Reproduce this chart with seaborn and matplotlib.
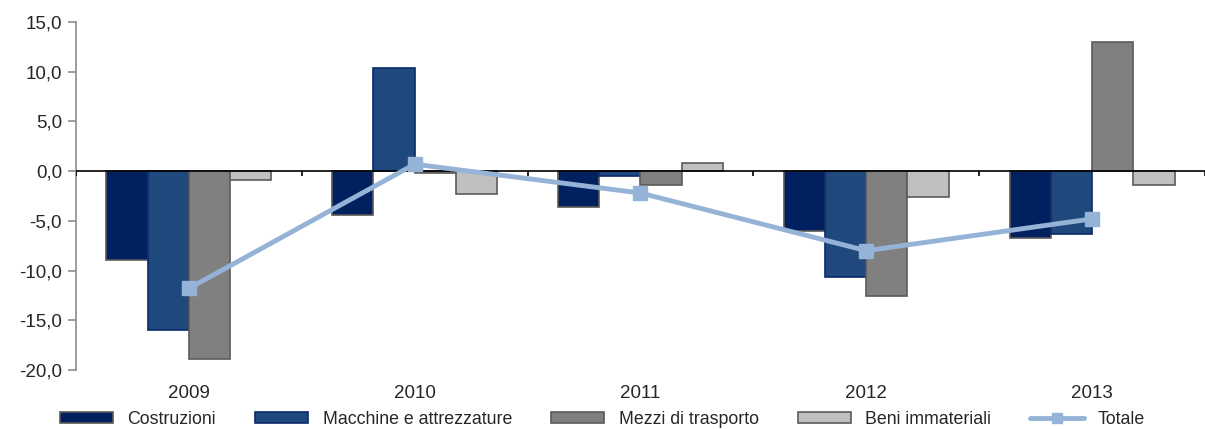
import numpy as np
import pandas as pd
import matplotlib
matplotlib.use("Agg")
import matplotlib.pyplot as plt
import seaborn as sns
from matplotlib.ticker import FuncFormatter

anni = ["2009", "2010", "2011", "2012", "2013"]
costruzioni = [-8.9, -4.4, -3.6, -6.0, -6.7]
macchine = [-16.0, 10.4, -0.5, -10.6, -6.3]
mezzi = [-18.9, -0.2, -1.4, -12.6, 13.0]
beni = [-0.9, -2.3, 0.8, -2.6, -1.4]
totale = [-11.8, 0.7, -2.2, -8.0, -4.8]

serie = ["Costruzioni", "Macchine e attrezzature", "Mezzi di trasporto", "Beni immateriali"]
colori = ["#002060", "#1F497D", "#808080", "#C0C0C0"]
bordi = ["#5A5A5A", "#0A2A6A", "#5A5A5A", "#5A5A5A"]

df = pd.DataFrame({
    "anno": anni * 4,
    "serie": np.repeat(serie, len(anni)),
    "valore": costruzioni + macchine + mezzi + beni,
})

sns.set_style("white")
plt.rcParams["font.family"] = ["Liberation Sans", "DejaVu Sans"]

fig = plt.figure(figsize=(12.05, 4.29), dpi=100)
ax = fig.add_axes([0.063, 0.1375, 0.937, 0.8112])

sns.barplot(data=df, x="anno", y="valore", hue="serie", hue_order=serie,
            palette=colori, width=0.73, ax=ax, legend=False, saturation=1)

for i, cont in enumerate(ax.containers):
    for bar in cont:
        bar.set_edgecolor(bordi[i])
        bar.set_linewidth(1.2)

x = np.arange(len(anni))
ax.plot(x, totale, color="#95B3D7", lw=3.5, marker="s", ms=10, zorder=5)

ax.axhline(0, color="black", lw=1.2, zorder=4)
ax.vlines(np.arange(-0.5, len(anni)), -0.45, 0, color="black", lw=1.2, zorder=4)

ax.set_xlim(-0.5, len(anni) - 0.5)
ax.set_ylim(-20, 15)
ax.set_yticks(np.arange(-20, 16, 5))
ax.yaxis.set_major_formatter(FuncFormatter(lambda v, p: f"{v:.1f}".replace(".", ",")))
ax.set_xlabel("")
ax.set_ylabel("")

for s in ["top", "right", "bottom"]:
    ax.spines[s].set_visible(False)
ax.spines["left"].set_color("#8C8C8C")
ax.spines["left"].set_linewidth(1.2)
ax.tick_params(axis="y", left=True, length=6, width=1.2, color="#8C8C8C",
               labelsize=13.5, pad=4)
ax.tick_params(axis="x", bottom=False, labelsize=13.5, pad=7)

handles = [plt.Rectangle((0, 0), 1, 1, facecolor=c, edgecolor=b, lw=1.2)
           for c, b in zip(colori, bordi)]
handles.append(plt.Line2D([], [], color="#95B3D7", lw=3.5, marker="s", ms=7))
fig.legend(handles, serie + ["Totale"], loc="lower center",
           bbox_to_anchor=(0.5, -0.035), ncol=5, frameon=False, fontsize=12.8,
           handlelength=3.0, handleheight=0.6, handletextpad=0.8,
           columnspacing=2.2)

fig.savefig("out.png", dpi=100)
